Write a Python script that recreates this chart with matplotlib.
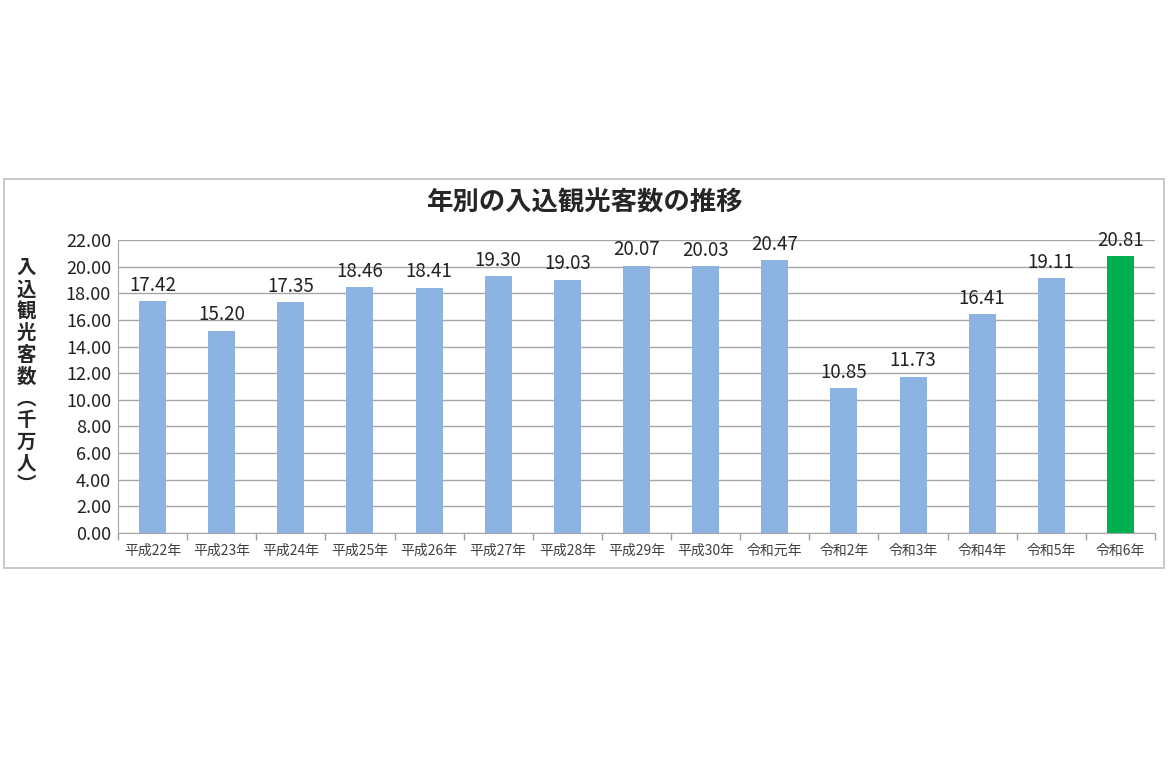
import matplotlib.pyplot as plt
import numpy as np

plt.rcParams['font.family'] = ['Noto Sans CJK JP', 'DejaVu Sans']

# data
years = ["平成22年", "平成23年", "平成24年", "平成25年", "平成26年", "平成27年",
         "平成28年", "平成29年", "平成30年", "令和元年", "令和2年", "令和3年",
         "令和4年", "令和5年", "令和6年"]
visitors = [17.42, 15.20, 17.35, 18.46, 18.41, 19.30, 19.03, 20.07,
            20.03, 20.47, 10.85, 11.73, 16.41, 19.11, 20.81]
highlight = "令和6年"

title = "年別の入込観光客数の推移"
ylabel = "入込観光客数︵千万人︶"

blue = "#8DB3E2"
green = "#00B050"
colors = [green if y == highlight else blue for y in years]

fig = plt.figure(figsize=(11.7, 7.66), dpi=100)
fig.patch.set_facecolor("white")

# chart area border
fig.add_artist(plt.Rectangle((4 / 1170, 1 - 568 / 766), 1160 / 1170, 389 / 766,
                             transform=fig.transFigure, fill=False,
                             edgecolor="#BFBFBF", linewidth=1.2))

ax = fig.add_axes([118 / 1170, 1 - 533 / 766, 1037 / 1170, 293 / 766])

x = np.arange(len(years))
bars = ax.bar(x, visitors, width=0.39, color=colors, zorder=3)

for xi, v in zip(x, visitors):
    ax.text(xi, v + 0.4, f"{v:.2f}", ha="center", va="bottom",
            fontsize=13.5, color="#222222", zorder=4)

ax.set_xlim(-0.5, len(years) - 0.5)
ax.set_ylim(0, 22)
ax.set_yticks(np.arange(0, 22.01, 2))
ax.set_yticklabels([f"{t:.2f}" for t in np.arange(0, 22.01, 2)],
                   fontsize=13, color="#222222")
ax.set_xticks(x)
ax.set_xticklabels(years, fontsize=10, color="#404040")
ax.set_xticks(np.arange(-0.5, len(years)), minor=True)
ax.tick_params(axis="x", which="major", length=0, pad=8)
ax.tick_params(axis="x", which="minor", length=5, color="#A0A0A0", width=1)
ax.tick_params(axis="y", length=0, pad=5)

ax.grid(axis="y", color="#A6A6A6", linewidth=1, zorder=0)
for side in ["top", "right"]:
    ax.spines[side].set_visible(False)
ax.spines["left"].set_color("#A6A6A6")
ax.spines["bottom"].set_color("#A6A6A6")

fig.text(585 / 1170, 1 - 203 / 766, title, ha="center", va="center",
         fontsize=19, fontweight="bold", color="#262626")

fig.text(26 / 1170, 1 - 377 / 766, "\n".join(ylabel), ha="center", va="center",
         fontsize=14, fontweight="bold", color="#262626", linespacing=1.18)

fig.savefig("out.png", dpi=100, facecolor="white")
